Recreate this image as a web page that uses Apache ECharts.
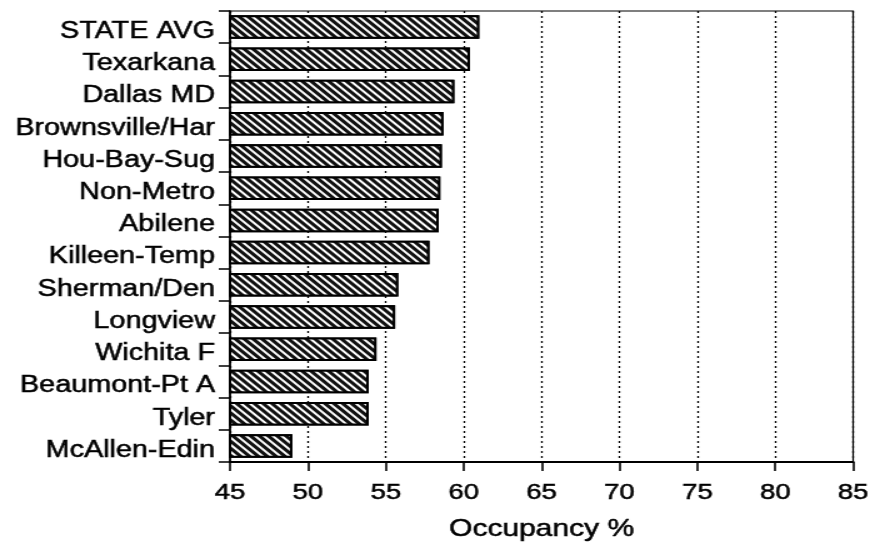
<!DOCTYPE html>
<html>
<head>
<meta charset="utf-8">
<script src="https://cdn.jsdelivr.net/npm/echarts@6/dist/echarts.min.js"></script>
<style>
html,body{margin:0;padding:0;background:#fff;overflow:hidden;}
#wrap{width:872px;height:548px;overflow:hidden;}
#c{width:697.6px;height:548px;transform:scaleX(1.25);transform-origin:0 0;}
</style>
</head>
<body>
<div id="wrap"><div id="c"></div></div>
<script>
var categories = ['STATE AVG','Texarkana','Dallas MD','Brownsville/Har','Hou-Bay-Sug','Non-Metro','Abilene','Killeen-Temp','Sherman/Den','Longview','Wichita F','Beaumont-Pt A','Tyler','McAllen-Edin'];
var occupancy = [61.0, 60.4, 59.4, 58.7, 58.6, 58.5, 58.4, 57.8, 55.8, 55.6, 54.4, 53.9, 53.9, 49.0];
var xTicks = [45, 50, 55, 60, 65, 70, 75, 80, 85];
var xName = 'Occupancy %';

var chart = echarts.init(document.getElementById('c'), null, {renderer: 'canvas'});
var font = 'Liberation Sans, Arial, sans-serif';
var labelStyle = {fontFamily: font, fontSize: 23, color: '#000', textBorderColor: '#000', textBorderWidth: 0.5, padding: [9, 0, 0, 0]};
chart.setOption({
  backgroundColor: '#fff',
  animation: false,
  grid: {left: 184, right: 12, top: 11, bottom: 86, show: true, borderColor: '#000', borderWidth: 1.2, containLabel: false},
  xAxis: {
    type: 'value', min: xTicks[0], max: xTicks[xTicks.length - 1], interval: 5,
    name: xName, nameLocation: 'middle', nameGap: 55,
    nameTextStyle: {fontFamily: font, fontSize: 24, color: '#000', textBorderColor: '#000', textBorderWidth: 0.5},
    axisLine: {show: true, lineStyle: {color: '#000', width: 2}},
    axisTick: {show: true, length: 9, lineStyle: {color: '#000', width: 1.6}},
    axisLabel: {fontFamily: font, fontSize: 22, color: '#000', margin: 20, textBorderColor: '#000', textBorderWidth: 0.5},
    splitLine: {show: true, lineStyle: {color: '#000', type: [2, 3], width: 1.3}}
  },
  yAxis: {
    type: 'category', data: categories, inverse: true,
    axisLine: {show: true, lineStyle: {color: '#000', width: 1.6}},
    axisTick: {show: true, length: 9, lineStyle: {color: '#000', width: 1.5}},
    axisLabel: {
      margin: 12,
      formatter: function (v) { return '{a|' + v + '}'; },
      rich: {a: labelStyle}
    },
    splitLine: {show: false}
  },
  series: [{
    type: 'bar', data: occupancy, barCategoryGap: '27%',
    itemStyle: {
      color: '#fff', borderColor: '#000', borderWidth: 2,
      decal: {symbol: 'rect', color: '#111', backgroundColor: '#fff', dashArrayX: [1, 0], dashArrayY: [2.2, 1.8], rotation: Math.PI / 4, symbolSize: 1}
    }
  }]
});
</script>
</body>
</html>
